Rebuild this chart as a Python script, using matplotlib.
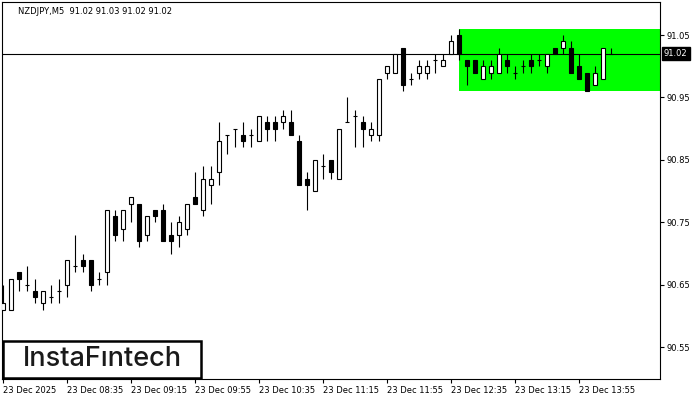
import matplotlib.pyplot as plt
from matplotlib.patches import Rectangle
import matplotlib.transforms as mtransforms

# chart header and labels
symbol_info = 'NZDJPY,M5  91.02 91.03 91.02 91.02'
time_labels = ['23 Dec 2025', '23 Dec 08:35', '23 Dec 09:15', '23 Dec 09:55', '23 Dec 10:35',
               '23 Dec 11:15', '23 Dec 11:55', '23 Dec 12:35', '23 Dec 13:15', '23 Dec 13:55']
price_ticks = [90.55, 90.65, 90.75, 90.85, 90.95, 91.05]
last_price = 91.02

# rectangle pattern (green zone)
zone_start = 57
zone_top = 91.06
zone_bottom = 90.96

# M5 candles
opens = [90.61, 90.61, 90.67, 90.65, 90.64, 90.62, 90.63, 90.64, 90.65, 90.68,
         90.69, 90.69, 90.66, 90.67, 90.76, 90.74, 90.78, 90.78, 90.73, 90.77,
         90.77, 90.73, 90.73, 90.74, 90.79, 90.77, 90.81, 90.83, 90.89, 90.90,
         90.89, 90.89, 90.88, 90.91, 90.91, 90.91, 90.91, 90.88, 90.82, 90.80,
         90.84, 90.85, 90.82, 90.91, 90.92, 90.91, 90.89, 90.89, 90.99, 90.99,
         91.03, 90.98, 90.99, 90.99, 91.01, 91.00, 91.02, 91.05, 91.01, 91.01,
         90.98, 90.99, 90.99, 91.01, 90.99, 91.00, 91.01, 91.01, 91.00, 91.03,
         91.03, 91.03, 91.00, 90.99, 90.97, 90.98, 91.02]
highs = [90.65, 90.66, 90.67, 90.68, 90.66, 90.64, 90.65, 90.66, 90.69, 90.73,
         90.70, 90.69, 90.67, 90.77, 90.77, 90.77, 90.79, 90.78, 90.76, 90.77,
         90.78, 90.75, 90.76, 90.78, 90.83, 90.84, 90.84, 90.91, 90.89, 90.90,
         90.91, 90.90, 90.92, 90.92, 90.92, 90.93, 90.93, 90.89, 90.83, 90.85,
         90.86, 90.85, 90.90, 90.95, 90.93, 90.92, 90.91, 90.98, 91.00, 91.02,
         91.03, 90.99, 91.01, 91.01, 91.02, 91.02, 91.05, 91.06, 91.01, 91.01,
         91.01, 91.01, 91.03, 91.02, 91.00, 91.01, 91.02, 91.02, 91.02, 91.03,
         91.05, 91.04, 91.02, 90.99, 91.00, 91.03, 91.03]
lows = [90.61, 90.61, 90.64, 90.64, 90.62, 90.61, 90.62, 90.62, 90.63, 90.67,
        90.67, 90.64, 90.65, 90.65, 90.72, 90.72, 90.75, 90.71, 90.72, 90.75,
        90.72, 90.70, 90.71, 90.73, 90.78, 90.76, 90.78, 90.81, 90.86, 90.87,
        90.87, 90.87, 90.88, 90.88, 90.88, 90.90, 90.89, 90.81, 90.77, 90.80,
        90.82, 90.82, 90.82, 90.91, 90.87, 90.87, 90.88, 90.88, 90.98, 90.99,
        90.96, 90.97, 90.98, 90.98, 90.99, 91.00, 91.02, 91.01, 90.97, 90.99,
        90.98, 90.98, 90.99, 90.99, 90.98, 90.99, 90.99, 91.00, 90.99, 91.02,
        91.02, 90.99, 90.98, 90.96, 90.97, 90.98, 91.02]
closes = [90.62, 90.66, 90.66, 90.65, 90.63, 90.64, 90.63, 90.64, 90.69, 90.68,
          90.68, 90.65, 90.66, 90.77, 90.73, 90.77, 90.79, 90.72, 90.76, 90.76,
          90.72, 90.72, 90.75, 90.78, 90.78, 90.82, 90.82, 90.88, 90.89, 90.90,
          90.88, 90.89, 90.92, 90.90, 90.90, 90.92, 90.89, 90.81, 90.81, 90.85,
          90.84, 90.83, 90.90, 90.91, 90.92, 90.90, 90.90, 90.98, 91.00, 91.02,
          90.97, 90.98, 91.00, 91.00, 91.01, 91.01, 91.04, 91.02, 91.00, 90.99,
          91.00, 91.00, 91.02, 91.00, 90.99, 91.00, 91.00, 91.01, 91.02, 91.02,
          91.04, 90.99, 90.98, 90.96, 90.99, 91.03, 91.02]

fig = plt.figure(figsize=(7, 4), dpi=100)
ax = fig.add_axes([2 / 700, 21 / 400, 658 / 700, 377 / 400])
ax.set_xlim(-0.125, 82.125)
ax.set_ylim(90.499, 91.103)

# green zone and current price line
ax.add_patch(Rectangle((zone_start, zone_bottom), 40, zone_top - zone_bottom,
                       facecolor='#00ff00', edgecolor='none', zorder=1))
ax.axhline(last_price, color='black', lw=0.8, zorder=2)

# candles
w = 0.55
for i, (o, h, l, c) in enumerate(zip(opens, highs, lows, closes)):
    ax.vlines(i, l, h, color='black', lw=0.8, zorder=3)
    if o == c:
        ax.hlines(o, i - w / 2, i + w / 2, color='black', lw=0.8, zorder=4)
    else:
        face = 'white' if c > o else 'black'
        ax.add_patch(Rectangle((i - w / 2, min(o, c)), w, abs(c - o),
                               facecolor=face, edgecolor='black', lw=0.8, zorder=4))

# axes styling
for s in ax.spines.values():
    s.set_linewidth(0.8)
ax.set_xticks(range(0, 73, 8))
ax.set_xticklabels(time_labels, ha='left', fontsize=6)
ax.yaxis.tick_right()
ax.set_yticks(price_ticks)
ax.set_yticklabels(['%.2f' % p for p in price_ticks], fontsize=6)
ax.tick_params(direction='out', length=3, width=0.8, pad=2)

# last price label
trans = mtransforms.blended_transform_factory(ax.transAxes, ax.transData)
ax.text(1.006, last_price, '%.2f' % last_price, transform=trans, fontsize=6,
        color='white', ha='left', va='center', clip_on=False,
        bbox=dict(facecolor='black', edgecolor='black', pad=1.5))

# header
fig.text(18 / 700, 1 - 11 / 400, symbol_info, fontsize=6, va='center')

# logo
fig.patches.append(Rectangle((3 / 700, 22 / 400), 198 / 700, 37 / 400, transform=fig.transFigure,
                             facecolor='white', edgecolor='black', lw=1.8, zorder=5))
fig.text(102 / 700, 1 - 359 / 400, 'InstaFıntech', fontsize=19.5, family='Inter', weight='medium',
         color='#1a1a1a', ha='center', va='center', zorder=6)

fig.savefig('out.png', dpi=100)
